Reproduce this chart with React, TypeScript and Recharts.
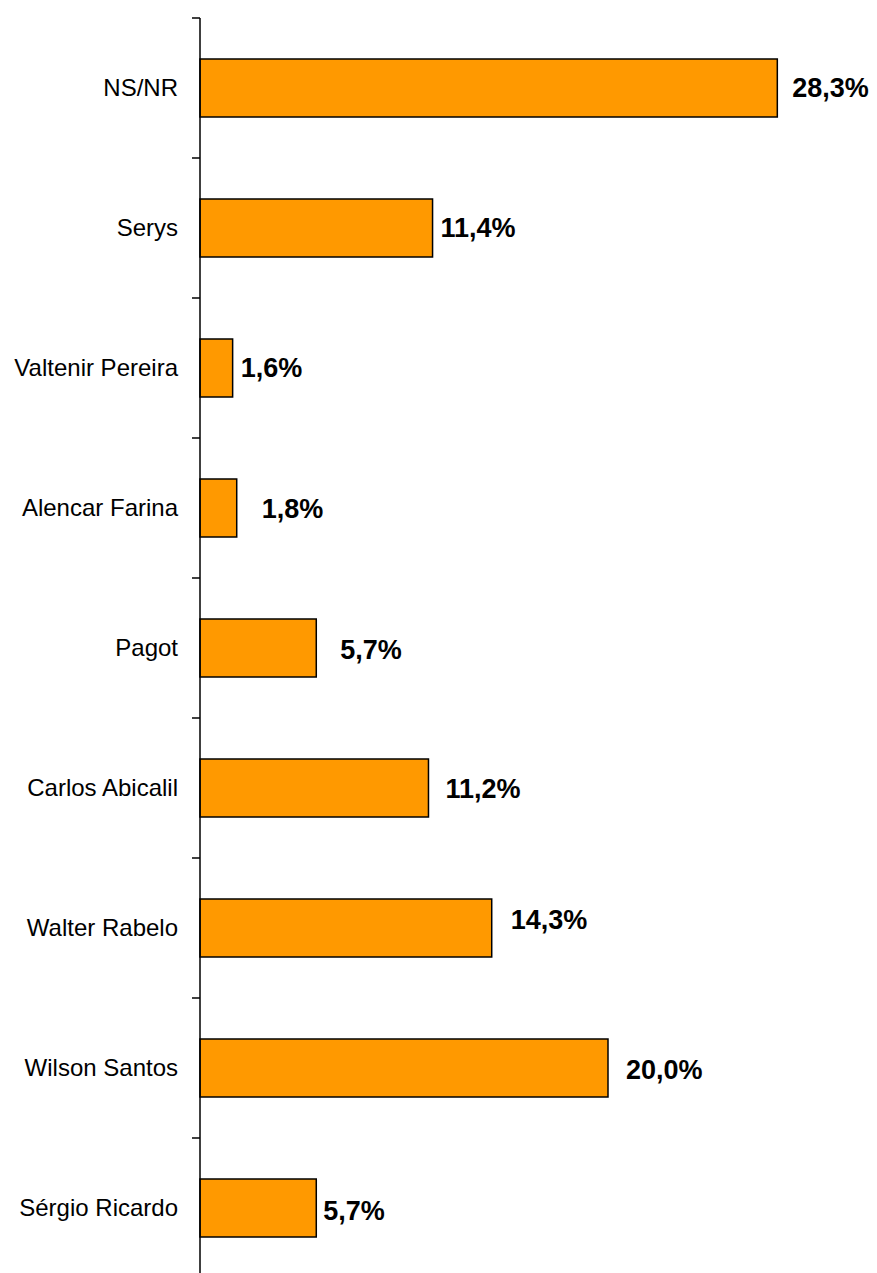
import { Bar, BarChart, LabelList, XAxis, YAxis } from "recharts"

const candidates = [
  "NS/NR",
  "Serys",
  "Valtenir Pereira",
  "Alencar Farina",
  "Pagot",
  "Carlos Abicalil",
  "Walter Rabelo",
  "Wilson Santos",
  "Sérgio Ricardo",
]

const percents = [28.3, 11.4, 1.6, 1.8, 5.7, 11.2, 14.3, 20.0, 5.7]

// hand-placed label nudges, as in the original
const labelDx = [15, 8, 8, 25, 24, 17, 19, 18, 7]
const labelDy = [0, 0, 0, 1, 2, 1, -8, 2, 3]

const data = candidates.map((name, i) => ({ name, value: percents[i] }))

const BAND = 140

function CategoryTick(props: any) {
  const { x, y, payload } = props
  return (
    <g>
      <line x1={x + 14} x2={x + 22} y1={y - BAND / 2} y2={y - BAND / 2} stroke="#000" strokeWidth={1.5} />
      <text x={x} y={y} dy="0.33em" textAnchor="end" fontSize={24} fill="#000" fontFamily="'Liberation Sans', Arial, sans-serif">
        {payload.value}
      </text>
    </g>
  )
}

function ValueLabel(props: any) {
  const { x, y, width, height, value, index } = props
  const i = typeof index === "number" ? index : 0
  return (
    <text
      x={x + width + labelDx[i]}
      y={y + height / 2 + labelDy[i]}
      dy="0.35em"
      fontSize={27}
      fontWeight="bold"
      fill="#000"
      fontFamily="'Liberation Sans', Arial, sans-serif"
    >
      {`${Number(value).toFixed(1).replace(".", ",")}%`}
    </text>
  )
}

export default function App() {
  return (
    <div style={{ position: "absolute", top: 0, left: 0, background: "#fff" }}>
      <BarChart
        width={877}
        height={1290}
        data={data}
        layout="vertical"
        margin={{ top: 18, right: 65, bottom: 12, left: 0 }}
      >
        <XAxis type="number" domain={[0, 30]} hide />
        <YAxis
          type="category"
          dataKey="name"
          width={200}
          axisLine={{ stroke: "#000", strokeWidth: 1.5 }}
          tickLine={false}
          tickSize={0}
          tickMargin={22}
          tick={<CategoryTick />}
          interval={0}
        />
        <Bar dataKey="value" fill="#FF9900" stroke="#000" strokeWidth={1.5} barSize={58} isAnimationActive={false}>
          <LabelList dataKey="value" content={<ValueLabel />} />
        </Bar>
      </BarChart>
    </div>
  )
}
